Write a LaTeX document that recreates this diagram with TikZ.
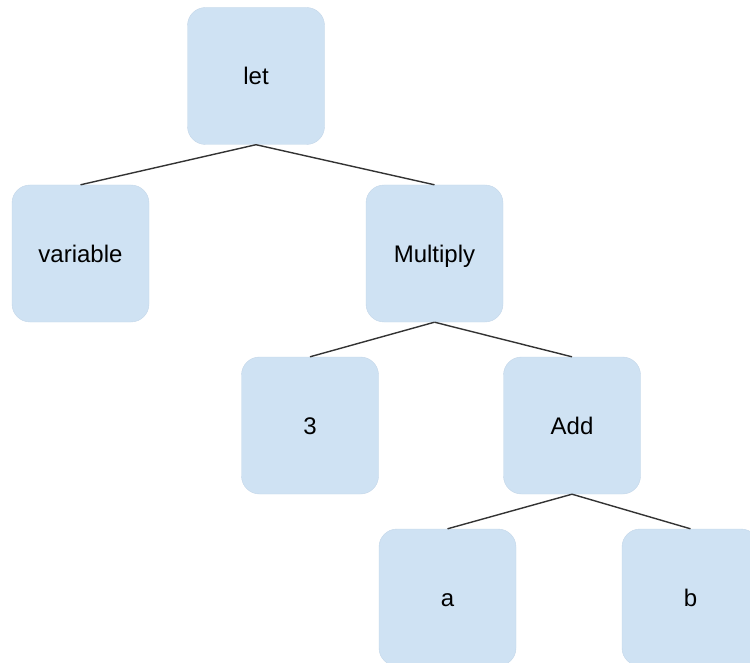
\documentclass[tikz,border=0pt]{standalone}
\usepackage{fontspec}
\setmainfont{Liberation Sans}
\definecolor{boxblue}{HTML}{CFE2F3}
\definecolor{boxedge}{HTML}{C3D6E8}
\definecolor{edgegray}{HTML}{333333}
\begin{document}
\begin{tikzpicture}[x=1pt,y=-1pt,
    treebox/.style={draw=boxedge,fill=boxblue,rounded corners=18pt,minimum width=137pt,minimum height=137pt,inner sep=0pt,text height=17pt,text depth=0pt,font=\fontsize{24}{28}\selectfont},
    treeline/.style={draw=edgegray,line width=1.4pt}]
  \useasboundingbox (0,0) rectangle (750,663);
  \clip (0,0) rectangle (750,663);

  \node[treebox] (let) at (256,76) {let};
  \node[treebox] (var) at (80.5,253.5) {variable};
  \node[treebox] (mult) at (434.5,253.5) {Multiply};
  \node[treebox] (three) at (310,425.5) {3};
  \node[treebox] (add) at (572,425.5) {Add};
  \node[treebox] (a) at (447.5,597.5) {a};
  \node[treebox] (b) at (690.5,597.5) {b};

  % edges of the tree
  \draw[treeline] (let.south) -- (var.north);
  \draw[treeline] (let.south) -- (mult.north);
  \draw[treeline] (mult.south) -- (three.north);
  \draw[treeline] (mult.south) -- (add.north);
  \draw[treeline] (add.south) -- (a.north);
  \draw[treeline] (add.south) -- (b.north);
\end{tikzpicture}
\end{document}
